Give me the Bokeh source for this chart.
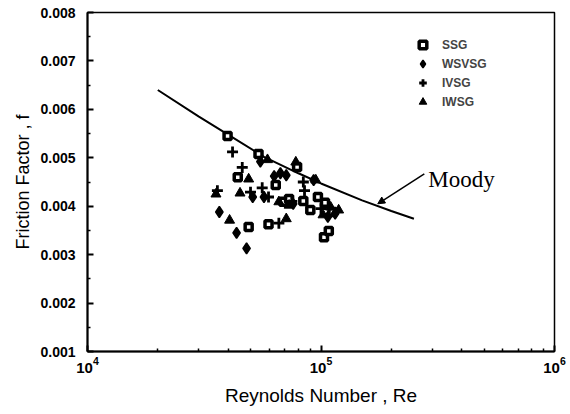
from bokeh.plotting import figure
from bokeh.models import (FixedTicker, PrintfTickFormatter, LogTickFormatter, Label,
                          Arrow, NormalHead, Legend, LegendItem, Range1d, Title)
from bokeh.embed import file_html
from bokeh.resources import INLINE

# ---- data ----
moody_re = [2.0e4, 3.0e4, 4.0e4, 5.7e4, 8.0e4, 1.0e5, 1.5e5, 2.0e5, 2.5e5]
moody_f = [0.0064, 0.00585, 0.00548, 0.00502, 0.00468, 0.00447, 0.00412, 0.00390, 0.00374]

ssg_re = [3.98e4, 4.4e4, 5.4e4, 6.4e4, 7.9e4, 4.9e4, 5.96e4, 6.9e4, 8.4e4, 9.7e4,
          9.0e4, 1.04e5, 1.03e5, 1.08e5, 1.12e5, 7.3e4]
ssg_f = [0.00545, 0.00460, 0.00508, 0.00444, 0.00481, 0.00357, 0.00363, 0.00409, 0.00411,
         0.00419, 0.00392, 0.00407, 0.00336, 0.00349, 0.00388, 0.00415]

wsvsg_re = [3.67e4, 4.35e4, 4.8e4, 5.1e4, 5.7e4, 5.5e4, 6.3e4, 6.7e4, 7.1e4, 9.3e4,
            1.07e5, 1.15e5, 7.6e4]
wsvsg_f = [0.00388, 0.00345, 0.00313, 0.00419, 0.00419, 0.00492, 0.00462, 0.00468,
           0.00464, 0.00454, 0.00378, 0.00385, 0.00405]

ivsg_re = [4.18e4, 4.6e4, 3.6e4, 4.99e4, 5.6e4, 5.96e4, 6.6e4, 8.4e4, 8.5e4, 1.0e5, 7.5e4]
ivsg_f = [0.00512, 0.00480, 0.00432, 0.00429, 0.00438, 0.00419, 0.00365, 0.00450,
          0.00432, 0.00395, 0.00410]

iwsg_re = [3.55e4, 4.06e4, 4.5e4, 4.9e4, 5.9e4, 6.6e4, 7.1e4, 7.8e4, 7.3e4, 9.5e4,
           1.1e5, 1.19e5, 1.02e5]
iwsg_f = [0.00425, 0.00371, 0.00427, 0.00456, 0.00496, 0.00409, 0.00374, 0.00491,
          0.00402, 0.00454, 0.00398, 0.00392, 0.00382]

series_names = ["SSG", "WSVSG", "IVSG", "IWSG"]

x_major = [1e4, 1e5, 1e6]
x_minor = [m * d for d in (1e4, 1e5) for m in range(2, 10)]
y_major = [0.001, 0.002, 0.003, 0.004, 0.005, 0.006, 0.007, 0.008]
y_minor = [0.0015, 0.0025, 0.0035, 0.0045, 0.0055, 0.0065, 0.0075]

x_title = "Reynolds Number , Re"
y_title = "Friction Factor , f"
moody_label = "Moody"

# ---- figure ----
p = figure(x_axis_type="log", x_range=Range1d(1e4, 1e6), y_range=Range1d(0.001, 0.008),
           frame_width=467, frame_height=339,
           min_border_left=87, min_border_top=12, min_border_right=12, min_border_bottom=58,
           output_backend="svg", toolbar_location=None)
p.xgrid.visible = False
p.ygrid.visible = False
p.outline_line_color = "black"
p.outline_line_width = 1.5
p.background_fill_color = "white"
p.border_fill_color = "white"

for ax in (p.xaxis[0], p.yaxis[0]):
    ax.axis_line_width = 2
    ax.axis_line_color = "black"
    ax.major_tick_in = 6
    ax.major_tick_out = 0
    ax.minor_tick_in = 3
    ax.minor_tick_out = 0
    ax.major_tick_line_width = 2
    ax.minor_tick_line_width = 1.5
    ax.major_label_text_font = "Liberation Sans"
    ax.major_label_text_font_style = "bold"
    ax.major_label_text_color = "black"

p.xaxis[0].ticker = FixedTicker(ticks=x_major, minor_ticks=x_minor)
p.xaxis[0].formatter = LogTickFormatter()
p.xaxis[0].major_label_text_font_size = "15px"
p.xaxis[0].major_label_standoff = 5

p.yaxis[0].ticker = FixedTicker(ticks=y_major, minor_ticks=y_minor)
p.yaxis[0].formatter = PrintfTickFormatter(format="%.3f")
p.yaxis[0].major_label_text_font_size = "14px"
p.yaxis[0].major_label_standoff = 12

# axis titles as side titles (allow offset from centre)
p.add_layout(Title(text=x_title, align="center", offset=14, standoff=15,
                   text_font="Liberation Sans", text_font_size="19px",
                   text_font_style="normal", text_color="black"), "below")
p.add_layout(Title(text=y_title, align="center", offset=-30, standoff=9,
                   text_font="Liberation Sans", text_font_size="18px",
                   text_font_style="normal", text_color="black"), "left")

# Moody curve
p.line(moody_re, moody_f, line_color="black", line_width=2)

r_ssg = p.scatter(ssg_re, ssg_f, marker="square", size=7, fill_color="white",
                  line_color="black", line_width=3.5)
r_wsvsg = p.scatter(wsvsg_re, wsvsg_f, marker="diamond", size=11, fill_color="black",
                    line_color="black", line_width=1.5)
r_ivsg = p.scatter(ivsg_re, ivsg_f, marker="cross", size=11, line_color="black",
                   line_width=2.8)
r_iwsg = p.scatter(iwsg_re, iwsg_f, marker="triangle", size=10, fill_color="black",
                   line_color="black", line_width=1)

legend = Legend(items=[LegendItem(label=n, renderers=[r]) for n, r in
                       zip(series_names, [r_ssg, r_wsvsg, r_ivsg, r_iwsg])],
                location=(326, 240), orientation="vertical",
                glyph_height=19, glyph_width=19, label_height=14, spacing=0,
                label_standoff=10, padding=0, margin=0,
                border_line_color=None, background_fill_alpha=0,
                label_text_font="Liberation Sans", label_text_font_style="bold",
                label_text_font_size="12px")
p.add_layout(legend)

# Moody annotation
p.add_layout(Label(x=2.88e5, y=0.00456, text=moody_label, text_font="Liberation Serif",
                   text_font_size="23px", text_baseline="alphabetic", text_color="black"))
p.add_layout(Arrow(x_start=2.77e5, y_start=0.00467, x_end=1.75e5, y_end=0.00405,
                   line_width=1.5, line_color="black",
                   end=NormalHead(size=7, fill_color="black", line_color="black")))

open("out.html", "w").write(file_html(p, INLINE))
